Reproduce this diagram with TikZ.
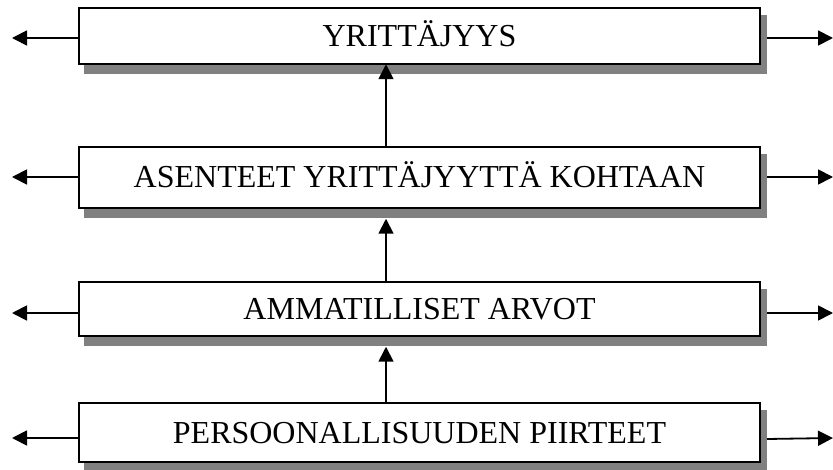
\documentclass[tikz,border=0pt]{standalone}
\usepackage{fontspec}
\setmainfont{Liberation Serif}
\usetikzlibrary{arrows.meta}
\begin{document}
\begin{tikzpicture}[x=1pt,y=-1pt,
  box/.style={draw=black, line width=1.8pt, fill=white, minimum width=681pt,
    inner sep=0pt, outer sep=0pt, text height=21pt, text depth=0pt,
    font=\fontsize{32}{38}\selectfont},
  shade/.style={fill=gray, draw=none, minimum width=683pt, inner sep=0pt, outer sep=0pt},
  arr/.style={line width=1.8pt, -{Triangle[length=15pt,width=15pt]}}]
\useasboundingbox (0,0) rectangle (833,470);
% shadows
\node[shade, minimum height=58.5pt] (s1) at (425.5,44.5) {};
\node[shade, minimum height=63.5pt] (s2) at (425.5,186) {};
\node[shade, minimum height=56.5pt] (s3) at (425.5,317.5) {};
\node[shade, minimum height=61.5pt] (s4) at (425.5,441) {};
% boxes
\node[box, minimum height=56.5pt] (b1) at (419.5,36) {YRITTÄJYYS};
\node[box, minimum height=61.5pt] (b2) at (419.5,177.5) {ASENTEET YRITTÄJYYTTÄ KOHTAAN};
\node[box, minimum height=54.5pt] (b3) at (419.5,309) {AMMATILLISET ARVOT};
\node[box, minimum height=59.5pt] (b4) at (419.5,432.5) {PERSOONALLISUUDEN PIIRTEET};
% free ends
\coordinate (L1) at (12,38);  \coordinate (R1) at (833,38);
\coordinate (L2) at (12,177); \coordinate (R2) at (833,177);
\coordinate (L3) at (12,313); \coordinate (R3) at (833,313);
\coordinate (L4) at (12,438); \coordinate (R4) at (833,438);
\coordinate (vx) at (386,0);
% side arrows
\draw[arr] (b1.west |- L1) -- (L1);
\draw[arr] (b2.west |- L2) -- (L2);
\draw[arr] (b3.west |- L3) -- (L3);
\draw[arr] (b4.west |- L4) -- (L4);
\draw[arr] (s1.east |- R1) -- (R1);
\draw[arr] (s2.east |- R2) -- (R2);
\draw[arr] (s3.east |- R3) -- (R3);
\draw[arr] ([yshift=-1pt]s4.east |- R4) -- (R4);
% vertical arrows
\draw[arr] (b2.north -| vx) -- (b1.south -| vx);
\draw[arr] (b3.north -| vx) -- ([yshift=-1pt]s2.south -| vx);
\draw[arr] (b4.north -| vx) -- ([yshift=-1pt]s3.south -| vx);
\end{tikzpicture}
\end{document}
